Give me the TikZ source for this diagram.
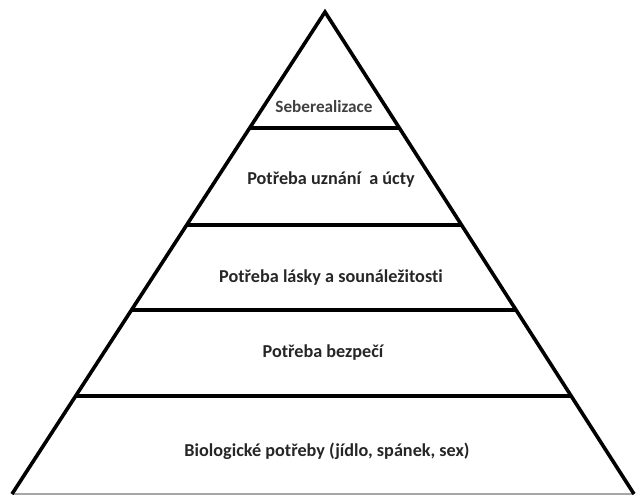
\documentclass[tikz,border=0pt]{standalone}
\usepackage{fontspec}
\setmainfont{Carlito}[Ligatures={NoCommon}]
\tikzset{
  tier/.style={line width=3.6pt, black},
  edge/.style={line width=3.6pt, black, line cap=butt},
  baseline/.style={line width=1.6pt, gray!70},
  lbl/.style={font=\bfseries\fontsize{18.2}{20}\selectfont, text=black!85, inner sep=0pt},
  lbltop/.style={font=\bfseries\fontsize{17.2}{19}\selectfont, text=black!75, inner sep=0pt}
}
\begin{document}
\begin{tikzpicture}[x=1pt,y=-1pt]
\useasboundingbox (0,0) rectangle (636,496);
\coordinate (apex) at (325,12);
\coordinate (bl) at (12,494);
\coordinate (br) at (634,494);
% tier lines
\foreach \yy/\nm in {128/a,225/b,310/c,396/d}{
  \path (apex) -- (bl) coordinate[pos={(\yy-12)/482}] (L\nm);
  \path (apex) -- (br) coordinate[pos={(\yy-12)/482}] (R\nm);
  \draw[tier] (L\nm) -- (R\nm);
}
\draw[baseline] (bl) -- (br);
\draw[edge, line join=miter] (bl) -- (apex) -- (br);
\node[lbltop] (t1) at (324,107) {Seberealizace};
\node[lbl] (t2) at (331,180) {Potřeba uznání \ a úcty};
\node[lbl] (t3) at (331,278) {Potřeba lásky a sounáležitosti};
\node[lbl] (t4) at (323,353) {Potřeba bezpečí};
\node[lbl] (t5) at (327,451) {Biologické potřeby (jídlo, spánek, sex)};
\end{tikzpicture}
\end{document}
